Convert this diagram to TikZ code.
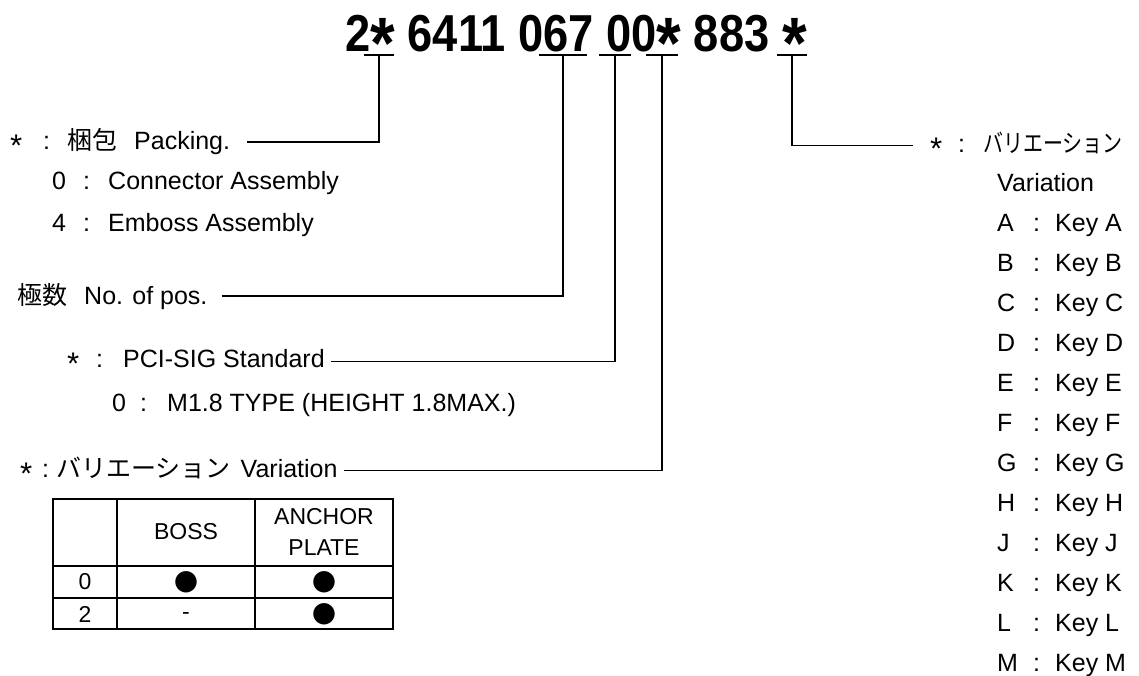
\documentclass[tikz,border=0pt]{standalone}
\usepackage{fontspec}
\setmainfont{Liberation Sans}
\newfontfamily\jp{Noto Sans CJK JP}
\newfontfamily\jpn[FakeStretch=0.8]{Noto Sans CJK JP}
\newfontfamily\symfont{DejaVu Sans}
\newfontfamily\titlefont[FakeStretch=0.87]{Liberation Sans Bold}
\usetikzlibrary{positioning, calc}
\newcommand{\sast}{\raisebox{-0.3em}{\scalebox{1.25}{*}}}
\newcommand{\tast}{\raisebox{-0.33em}{\scalebox{1.4}{*}}}

\begin{document}
\begin{tikzpicture}[x=1pt, y=-1pt,
    txt/.style={anchor=base west, inner sep=0pt, font=\fontsize{25}{30}\selectfont},
    cell/.style={inner sep=0pt, align=center, font=\fontsize{23}{31}\selectfont},
    dot/.style={inner sep=0pt, font=\symfont\fontsize{28}{30}\selectfont},
    ttl/.style={inner sep=0pt, anchor=base, font=\titlefont\fontsize{52}{60}\selectfont},
    lead/.style={line width=1.5pt},
    grid/.style={line width=2pt}
]
\useasboundingbox (0,0) rectangle (1139,675);

% part number
\node[ttl] (pn) at (576,51) {2\tast{} 6411 067 00\tast{} 883 \tast};

% marks under the number
\coordinate (b1) at (379,55);
\coordinate (b2) at (563,55);
\coordinate (b3) at (615,55);
\coordinate (b4) at (662,55);
\coordinate (b5) at (792,55);
\foreach \c/\w in {b1/15, b2/24, b3/16, b4/16, b5/15}
  \draw[lead] ([xshift=-\w pt]\c) -- ([xshift=\w pt]\c);

% left side
\node[txt] (pack) at (10,149) {\makebox[33pt][l]{\sast}\makebox[24pt][l]{:}{\jp 梱包}\hspace{17pt}Packing.};
\node[txt] (conn) at (52,189) {\makebox[31pt][l]{0}\makebox[25pt][l]{:}Connector Assembly};
\node[txt] (emb) at (52,231) {\makebox[31pt][l]{4}\makebox[25pt][l]{:}Emboss Assembly};
\node[txt] (pos) at (17,304) {{\jp 極数}\hspace{17pt}No. of pos.};
\node[txt] (pci) at (67,367) {\makebox[29pt][l]{\sast}\makebox[27pt][l]{:}PCI-SIG Standard};
\node[txt] (m18) at (112,411) {\makebox[28pt][l]{0}\makebox[27pt][l]{:}M1.8 TYPE (HEIGHT 1.8MAX.)};
\node[txt] (varl) at (20,477) {\makebox[22pt][l]{\sast}\makebox[14pt][l]{:}{\jp バリエーション}\hspace{10pt}Variation};

\draw[lead] ([xshift=17pt]pack.east) -| (b1);
\draw[lead] ([xshift=14pt]pos.east) -| (b2);
\draw[lead] ([xshift=6pt]pci.east) -| (b3);
\draw[lead] ([xshift=6pt]varl.east) -| (b4);

% right side
\node[txt] (varr) at (930,152) {\makebox[28pt][l]{\sast}\makebox[25pt][l]{:}{\jpn バリエーション}};
\draw[lead] (b5) |- ([xshift=-17pt]varr.west);
\node[txt] (vname) at (997,191) {Variation};
\foreach \k [count=\i from 0] in {A,B,C,D,E,F,G,H,J,K,L,M}
  \node[txt] (key\k) at (997,{231+40*\i}) {\makebox[36pt][l]{\k}\makebox[22pt][l]{:}Key \k};

% table
\draw[grid] (53,499) rectangle (393,629);
\draw[grid] (53,566) -- (393,566);
\draw[grid] (53,598) -- (393,598);
\draw[grid] (117,499) -- (117,629);
\draw[grid] (255,499) -- (255,629);
\node[cell] (hboss) at (186,532) {BOSS};
\node[cell] (hanch) at (324,532) {ANCHOR\\PLATE};
\node[cell] (r0) at (85,582) {0};
\node[dot] (r0b) at (186,582) {●};
\node[dot] (r0a) at (324,582) {●};
\node[cell] (r2) at (85,614) {2};
\node[cell] (r2b) at (186,616) {-};
\node[dot] (r2a) at (324,614) {●};
\end{tikzpicture}
\end{document}
